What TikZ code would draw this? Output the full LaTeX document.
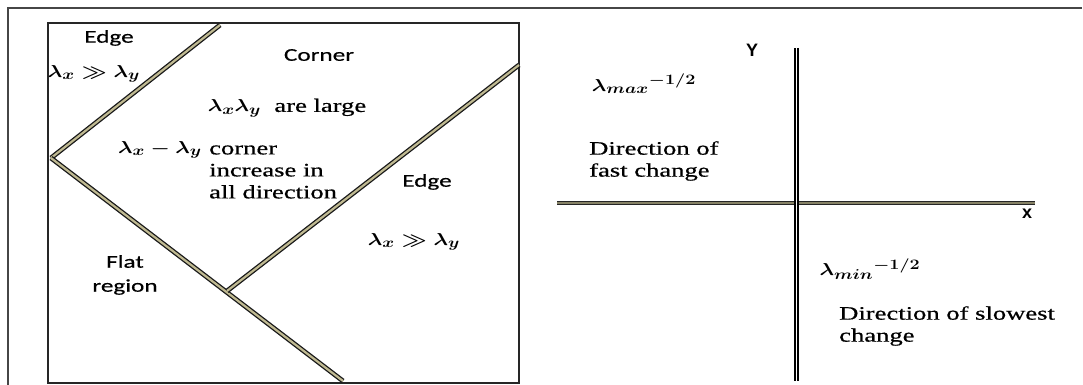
\documentclass[tikz,border=0pt]{standalone}
\usepackage{fontspec}
\usepackage{amsmath,amssymb}
\usepackage{tikz}
\usetikzlibrary{positioning}
\setmainfont{Liberation Serif}[FakeStretch=1.4, FakeBold=0.6]
\newfontfamily\labelfont{Carlito}[FakeStretch=1.4, FakeBold=0.5]
\newfontfamily\axisfont{Liberation Sans}
\definecolor{khaki}{RGB}{192,186,146}
\definecolor{framegray}{RGB}{70,70,70}
\newcommand{\lam}[1]{\scalebox{1.25}[1]{\boldmath$#1$}}

\begin{document}
\begin{tikzpicture}[
  x=1pt, y=-1pt,
  serif/.style={font=\fontsize{19}{22}\selectfont, inner sep=1pt},
  sans/.style={font=\labelfont\fontsize{18}{24}\selectfont, inner sep=1pt},
  axislabel/.style={font=\axisfont\bfseries\fontsize{18}{20}\selectfont, inner sep=1pt},
  ridge/.style={draw=black!90, line width=1.3pt, double=khaki, double distance=2.2pt},
  vaxis/.style={draw=black, line width=2pt, double=white, double distance=1pt},
  haxis/.style={draw=black!85, line width=1.7pt, double=khaki!70!black, double distance=1.3pt}
]
\useasboundingbox (0,0) rectangle (1083,385);
\draw[framegray, line width=1.8pt] (8,386) -- (8,8) -- (1082,8);
\draw[black!85, line width=1.4pt] (48,23) rectangle (519,383);

\coordinate (edgetop) at (220,25);
\coordinate (vertex) at (51,158);
\coordinate (flatend) at (343,381);
\coordinate (righttop) at (519,65);
\coordinate (meet) at (227,291);
\draw[ridge] (vertex) -- (edgetop);
\draw[ridge] (vertex) -- (flatend);
\draw[ridge] (meet) -- (righttop);

\node (edgeA) [sans] at (109,38) {Edge};
\node (ratioA) [serif] at (94,74) {\lam{\lambda_x \gg \lambda_y}};
\node (corner) [sans] at (319,55) {Corner};
\node (large) [serif] at (287,108) {\lam{\lambda_x\lambda_y}\ \ are large};
\node (incr) [serif, anchor=west, align=left] at (208,172) {corner\\increase in\\all direction};
\node (diff) [serif] at (160,150) {\lam{\lambda_x - \lambda_y}};
\node (edgeB) [sans] at (427,182) {Edge};
\node (ratioB) [serif] at (414,242) {\lam{\lambda_x \gg \lambda_y}};
\node (flat) [sans, align=center] at (125,275) {Flat\\region};

\coordinate (ytop) at (796,48);
\coordinate (ybot) at (796,381);
\coordinate (xleft) at (557,203);
\coordinate (xright) at (1035,203);
\draw[haxis] (xleft) -- (xright);
\draw[vaxis] (ytop) -- (ybot);

\node (ylab) [axislabel] at (752,50) {Y};
\node (xlab) [axislabel] at (1027,214) {x};
\node (lmax) [serif] at (644,84) {\lam{\lambda_{max}{}^{\mathbf{-1/2}}}};
\node (fast) [serif, anchor=west, align=left] at (588,161) {Direction of\\fast change};
\node (lmin) [serif] at (870,269) {\lam{\lambda_{min}{}^{\mathbf{-1/2}}}};
\node (slow) [serif, anchor=west, align=left] at (838,326) {Direction of slowest\\change};
\end{tikzpicture}
\end{document}
